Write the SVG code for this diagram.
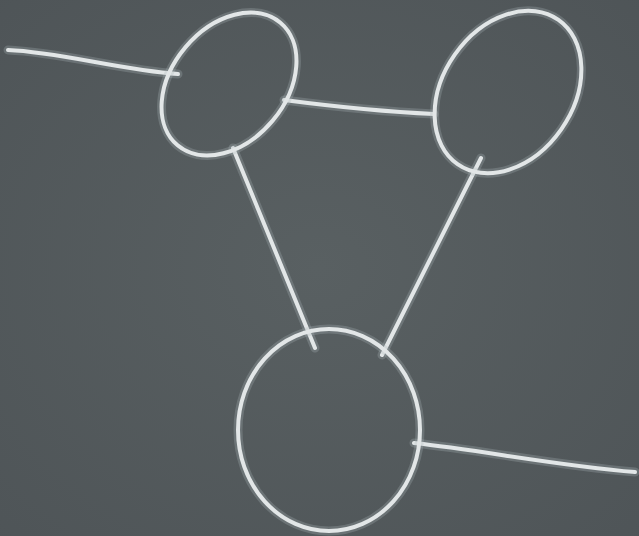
<svg xmlns="http://www.w3.org/2000/svg" width="639" height="536" viewBox="0 0 639 536">
<defs>
<style>
.glow{fill:none;stroke:#aeb6ba;stroke-width:9;stroke-opacity:0.28;stroke-linecap:round}
.chalk{fill:none;stroke:#e2e6e7;stroke-width:4;stroke-linecap:round}
</style>
<radialGradient id="bg" cx="0.5" cy="0.5" r="0.75">
<stop offset="0" stop-color="#596062"/>
<stop offset="1" stop-color="#4e5457"/>
</radialGradient>
</defs>
<rect width="639" height="536" fill="url(#bg)"/>
<g id="connectors">
<path class="glow" d="M8 50 C60 52 120 70 178 74"/>
<path class="chalk" d="M8 50 C60 52 120 70 178 74"/>
<path class="glow" d="M284 100 C330 106 390 112 434 114"/>
<path class="chalk" d="M284 100 C330 106 390 112 434 114"/>
<path class="glow" d="M233 148 L315 348"/>
<path class="chalk" d="M233 148 L315 348"/>
<path class="glow" d="M481 158 L382 355"/>
<path class="chalk" d="M481 158 L382 355"/>
<path class="glow" d="M414 443 C480 450 560 466 635 472"/>
<path class="chalk" d="M414 443 C480 450 560 466 635 472"/>
</g>
<g id="node-a">
<ellipse class="glow" cx="229" cy="84" rx="80" ry="57" transform="rotate(-50 229 84)"/>
<ellipse class="chalk" cx="229" cy="84" rx="80" ry="57" transform="rotate(-50 229 84)"/>
</g>
<g id="node-b">
<ellipse class="glow" cx="508" cy="92" rx="88" ry="65" transform="rotate(-55 508 92)"/>
<ellipse class="chalk" cx="508" cy="92" rx="88" ry="65" transform="rotate(-55 508 92)"/>
</g>
<g id="node-c">
<ellipse class="glow" cx="329" cy="430" rx="91" ry="101"/>
<ellipse class="chalk" cx="329" cy="430" rx="91" ry="101"/>
</g>
</svg>
